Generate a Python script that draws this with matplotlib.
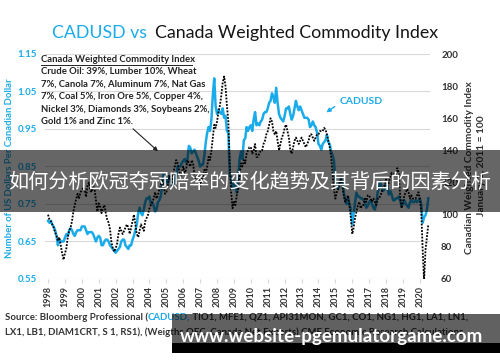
import numpy as np
import pandas as pd
import matplotlib
matplotlib.use("Agg")
import matplotlib.pyplot as plt
from matplotlib.patches import Rectangle

# monthly values, Jan 1998 .. Jul 2020
cadusd = [
    .705, .700, .705, .695, .690, .680, .665, .640, .655, .650, .650, .650,
    .660, .670, .665, .680, .685, .680, .670, .665, .675, .680, .680, .680,
    .690, .690, .690, .680, .670, .675, .675, .675, .670, .660, .650, .660,
    .665, .660, .640, .640, .650, .655, .655, .650, .640, .635, .630, .625,
    .620, .625, .630, .635, .650, .655, .655, .640, .635, .630, .640, .640,
    .655, .665, .680, .695, .725, .740, .725, .720, .735, .755, .765, .765,
    .770, .750, .755, .745, .730, .735, .755, .760, .770, .800, .830, .820,
    .810, .805, .825, .815, .800, .805, .815, .825, .850, .850, .850, .860,
    .865, .870, .860, .870, .905, .900, .885, .890, .895, .885, .875, .865,
    .850, .855, .855, .880, .915, .940, .955, .945, .975, 1.040, 1.085, 1.010,
    .990, 1.000, .995, .990, 1.005, .980, .985, .945, .940, .830, .815, .790,
    .810, .795, .780, .820, .870, .890, .870, .920, .925, .955, .945, .955,
    .960, .945, .975, .995, .960, .965, .960, .970, .975, .990, .995, .995,
    1.005, 1.020, 1.025, 1.045, 1.035, 1.020, 1.060, 1.020, .990, .980, .975, .970,
    .985, 1.005, 1.005, 1.010, .990, .975, .985, 1.005, 1.025, 1.010, 1.000, 1.010,
    1.000, .990, .980, .980, .980, .975, .955, .960, .970, .960, .955, .940,
    .910, .905, .895, .910, .915, .920, .935, .915, .910, .890, .880, .865,
    .810, .800, .790, .800, .820, .810, .780, .760, .750, .765, .750, .735,
    .695, .725, .755, .780, .770, .770, .765, .765, .760, .755, .740, .745,
    .755, .760, .750, .740, .735, .750, .780, .795, .810, .790, .785, .790,
    .805, .795, .775, .785, .775, .760, .760, .765, .765, .770, .760, .745,
    .750, .760, .750, .745, .740, .755, .760, .755, .755, .760, .755, .760,
    .765, .750, .700, .715, .720, .735, .765,
]
commodity = [
    100, 97, 96, 94, 92, 89, 87, 84, 86, 81, 76, 72,
    76, 79, 86, 90, 92, 96, 102, 106, 110, 113, 110, 114,
    115, 117, 116, 111, 118, 120, 115, 114, 119, 116, 109, 102,
    107, 105, 101, 104, 106, 101, 97, 95, 91, 83, 79, 77,
    79, 82, 88, 92, 90, 88, 90, 92, 94, 92, 88, 92,
    96, 100, 94, 88, 86, 90, 94, 92, 90, 96, 98, 100,
    104, 106, 108, 110, 114, 110, 112, 116, 118, 122, 118, 113,
    114, 118, 124, 122, 120, 126, 130, 134, 132, 128, 124, 126,
    130, 126, 128, 134, 132, 130, 134, 132, 124, 122, 124, 126,
    118, 122, 124, 128, 126, 130, 136, 134, 140, 148, 156, 154,
    158, 164, 168, 174, 182, 186, 180, 168, 158, 132, 114, 104,
    108, 106, 112, 116, 124, 132, 130, 134, 132, 138, 140, 142,
    142, 138, 140, 144, 136, 136, 138, 140, 140, 144, 146, 150,
    152, 156, 160, 158, 152, 150, 152, 146, 140, 144, 148, 150,
    154, 156, 152, 148, 140, 138, 142, 146, 148, 146, 144, 146,
    148, 146, 144, 142, 144, 146, 150, 150, 148, 146, 148, 150,
    150, 152, 152, 152, 154, 153, 150, 146, 142, 136, 126, 116,
    110, 114, 116, 120, 122, 118, 112, 108, 110, 112, 106, 98,
    88, 92, 98, 102, 106, 108, 104, 106, 106, 110, 108, 112,
    112, 110, 108, 110, 108, 106, 110, 110, 112, 114, 118, 118,
    122, 118, 120, 124, 126, 124, 126, 124, 129, 126, 112, 104,
    108, 112, 114, 116, 114, 110, 112, 110, 110, 110, 112, 114,
    110, 102, 78, 59, 78, 86, 94,
]
years = list(range(1998, 2021))
left_ticks = [0.55, 0.65, 0.75, 0.85, 0.95, 1.05, 1.15]
right_ticks = [60, 80, 100, 120, 140, 160, 180, 200]

dates = pd.date_range("1998-01-01", periods=len(cadusd), freq="MS")
t = dates.year + (dates.month - 1) / 12

BLUE = "#1AABEA"
DARK = "#333333"
W, H = 500, 362

plt.rcParams["font.family"] = ["Lato", "DejaVu Sans"]

fig = plt.figure(figsize=(5, 3.62), dpi=100)
ax = fig.add_axes([45 / W, 1 - 279 / H, 385 / W, 225 / H])
ax2 = ax.twinx()

ax.plot(t, cadusd, color=BLUE, lw=1.8, zorder=2)
ax2.plot(t, commodity, color="black", lw=1.3, ls=(0, (1, 0.8)), zorder=3)

ax.set_xlim(1997.82, 2020.6)
ax.set_ylim(0.55, 1.15)
ax2.set_ylim(60, 200)
ax.set_yticks(left_ticks)
ax.set_yticklabels([f"{v:.2f}" for v in left_ticks], color=BLUE,
                   fontsize=7, fontweight="bold")
ax2.set_yticks(right_ticks)
ax2.set_yticklabels([str(v) for v in right_ticks], color=DARK,
                    fontsize=7, fontweight="bold")
ax.set_xticks(years)
ax.set_xticklabels([str(y) for y in years], rotation=90, fontsize=6.5,
                   fontweight="bold", color=DARK)
ax.grid(axis="y", color="#d9d9d9", lw=0.8)
ax.set_axisbelow(True)
for a in (ax, ax2):
    for s in a.spines.values():
        s.set_visible(False)
ax.tick_params(axis="y", length=0, pad=6)
ax2.tick_params(axis="y", length=0, pad=8)
ax.tick_params(axis="x", length=3, color="#d9d9d9", pad=2)

# axis titles
fig.text(10 / W, 1 - 168 / H, "Number of US Dollars Per Canadian Dollar",
         rotation=90, ha="center", va="center", color=BLUE, fontsize=6.8,
         fontweight="bold")
fig.text(469 / W, 1 - 168 / H, "Canadian Weighted Commodity Index",
         rotation=90, ha="center", va="center", color=DARK, fontsize=7.3,
         fontweight="bold")
fig.text(481 / W, 1 - 166 / H, "January 1, 2011 = 100",
         rotation=90, ha="center", va="center", color=DARK, fontsize=7.3,
         fontweight="bold")

# title
fig.text(147 / W, 1 - 33 / H, "CADUSD vs", ha="right", va="center",
         color=BLUE, fontsize=12.8)
fig.text(155 / W, 1 - 33 / H, "Canada Weighted Commodity Index", ha="left",
         va="center", color="#151515", fontsize=12.8)

# weights note
note = ["Crude Oil: 39%, Lumber 10%, Wheat",
        "7%, Canola 7%, Aluminum 7%, Nat Gas",
        "7%, Coal 5%, Iron Ore 5%, Copper 4%,",
        "Nickel 3%, Diamonds 3%, Soybeans 2%,",
        "Gold 1% and Zinc 1%."]
fig.text(41 / W, 1 - 59 / H, "Canada Weighted Commodity Index",
         ha="left", va="center", fontsize=6.8, fontweight="bold",
         color="#222222")
fig.add_artist(plt.Line2D([41 / W, 192 / W], [1 - 64.5 / H, 1 - 64.5 / H],
                          color="#222222", lw=0.7))
for i, line in enumerate(note):
    fig.text(41 / W, 1 - (71.5 + 12.5 * i) / H, line, ha="left", va="center",
             fontsize=6.8, fontweight="bold", color="#222222")
ax.annotate("", xy=(160, H - 153), xycoords="figure pixels",
            xytext=(131, H - 127), textcoords="figure pixels",
            arrowprops=dict(arrowstyle="-|>", color="#222222", lw=0.8,
                            mutation_scale=6))
fig.text(340 / W, 1 - 102 / H, "CADUSD", ha="left", va="center", color=BLUE,
         fontsize=7.5, fontweight="bold")
ax.annotate("", xy=(324, H - 114), xycoords="figure pixels",
            xytext=(337, H - 105), textcoords="figure pixels",
            arrowprops=dict(arrowstyle="-|>", color=BLUE, lw=1.0,
                            mutation_scale=6))

# source
s1 = fig.text(5 / W, 1 - 317 / H, "Source: Bloomberg Professional (",
              ha="left", va="center", fontsize=6.9, fontweight="bold",
              color=DARK)
s2 = ax.annotate("CADUSD,", xy=(1, 0), xycoords=s1, va="bottom", ha="left",
                 fontsize=6.9, fontweight="bold", color=BLUE)
ax.annotate(" TIO1, MFE1, QZ1, API31MON, GC1, CO1, NG1, HG1, LA1, LN1,",
            xy=(1, 0), xycoords=s2, va="bottom", ha="left", fontsize=6.9,
            fontweight="bold", color=DARK)
fig.text(5 / W, 1 - 332 / H,
         "LX1, LB1, DIAM1CRT, S 1, RS1), (Weigths OEC, Canada Net Exports) "
         "CME Economic Research Calculations",
         ha="left", va="center", fontsize=6.9, fontweight="bold", color=DARK)

# overlays
fig.add_artist(Rectangle((0, 1 - 212 / H), 1, 62 / H, transform=fig.transFigure,
                         facecolor="black", alpha=0.6, lw=0, zorder=10))
fig.text(0.5, 1 - 182 / H, "如何分析欧冠夺冠赔率的变化趋势及其背后的因素分析",
         ha="center", va="center", color="white", fontsize=14.5,
         family=["Noto Sans CJK SC", "DejaVu Sans"], fontweight="medium",
         zorder=11)
fig.add_artist(Rectangle((172 / W, 1 - 343 / H), 328 / W, 29 / H,
                         transform=fig.transFigure, facecolor="black",
                         alpha=0.62, lw=0, zorder=10))
fig.add_artist(Rectangle((172 / W, 1 - 353 / H), 328 / W, 10 / H,
                         transform=fig.transFigure, facecolor="black",
                         lw=0, zorder=10))
fig.text(180 / W, 1 - 342 / H, "www.website-pgemulatorgame.com", ha="left",
         va="baseline", color="white", fontsize=13.5, fontweight="bold",
         zorder=11)

fig.savefig("out.png", dpi=100)
